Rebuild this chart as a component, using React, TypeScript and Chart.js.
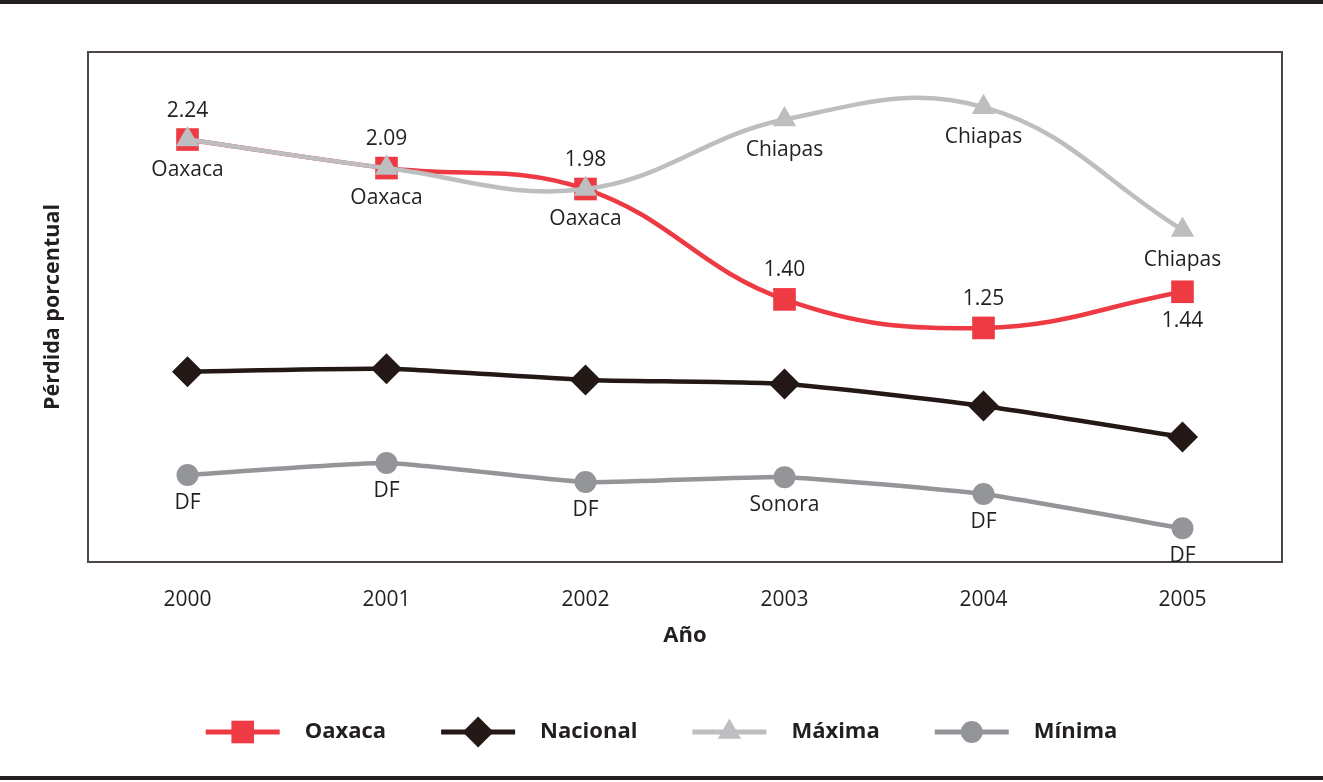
import React, { useEffect, useRef } from "react";
import { Chart, registerables } from "chart.js";

Chart.register(...registerables);

const years = ["2000", "2001", "2002", "2003", "2004", "2005"];
const oaxaca = [2.24, 2.09, 1.98, 1.4, 1.25, 1.44];
const nacional = [1.02, 1.035, 0.977, 0.956, 0.84, 0.677];
const maxima = [2.24, 2.09, 1.98, 2.345, 2.41, 1.765];
const minima = [0.477, 0.54, 0.44, 0.466, 0.377, 0.197];

const oaxacaLabels = ["2.24", "2.09", "1.98", "1.40", "1.25", "1.44"];
const oaxacaLabelAbove = [true, true, true, true, true, false];
const maximaLabels = ["Oaxaca", "Oaxaca", "Oaxaca", "Chiapas", "Chiapas", "Chiapas"];
const minimaLabels = ["DF", "DF", "DF", "Sonora", "DF", "DF"];

const RED = "#ee3a43";
const BLACK = "#231815";
const LIGHT = "#bcbec0";
const GRAY = "#939598";
const TEXT = "#231f20";
const FONT = '"Open Sans", "Noto Sans", sans-serif';

function drawMarker(ctx: CanvasRenderingContext2D, style: string, x: number, y: number, r: number, color: string) {
  ctx.fillStyle = color;
  ctx.beginPath();
  if (style === "rect") {
    const s = r * Math.SQRT1_2;
    ctx.rect(x - s, y - s, 2 * s, 2 * s);
  } else if (style === "rectRot") {
    ctx.moveTo(x - r, y);
    ctx.lineTo(x, y - r);
    ctx.lineTo(x + r, y);
    ctx.lineTo(x, y + r);
    ctx.closePath();
  } else if (style === "triangle") {
    ctx.moveTo(x, y - r);
    ctx.lineTo(x + r * Math.sin(Math.PI / 3), y + r / 2);
    ctx.lineTo(x - r * Math.sin(Math.PI / 3), y + r / 2);
    ctx.closePath();
  } else {
    ctx.arc(x, y, r, 0, Math.PI * 2);
  }
  ctx.fill();
}

const labelPlugin = {
  id: "pointLabels",
  afterDatasetsDraw(chart: any) {
    const ctx = chart.ctx as CanvasRenderingContext2D;
    ctx.save();
    ctx.font = `21px ${FONT}`;
    ctx.fillStyle = TEXT;
    ctx.textAlign = "center";
    ctx.textBaseline = "middle";
    const off = 29;
    const m0 = chart.getDatasetMeta(0);
    m0.data.forEach((p: any, i: number) => {
      ctx.fillText(oaxacaLabels[i], p.x, p.y + (oaxacaLabelAbove[i] ? -off : off));
    });
    const m2 = chart.getDatasetMeta(2);
    m2.data.forEach((p: any, i: number) => {
      ctx.fillText(maximaLabels[i], p.x, p.y + 30);
    });
    const m3 = chart.getDatasetMeta(3);
    m3.data.forEach((p: any, i: number) => {
      ctx.fillText(minimaLabels[i], p.x, p.y + 28);
    });
    ctx.restore();
  },
};

const framePlugin = {
  id: "frame",
  beforeDatasetsDraw(chart: any) {
    const { left, top, right, bottom } = chart.chartArea;
    const ctx = chart.ctx as CanvasRenderingContext2D;
    ctx.save();
    ctx.strokeStyle = "#4d4546";
    ctx.lineWidth = 2;
    ctx.strokeRect(left, top, right - left, bottom - top);
    ctx.restore();
  },
};

const legendPlugin = {
  id: "customLegend",
  afterDraw(chart: any) {
    const ctx = chart.ctx as CanvasRenderingContext2D;
    ctx.save();
    ctx.font = `bold 22px ${FONT}`;
    ctx.textBaseline = "middle";
    ctx.textAlign = "left";
    const lineW = 74, gapText = 25, gapItem = 55;
    const dss = chart.data.datasets;
    const widths = dss.map((d: any) => ctx.measureText(d.label).width);
    let total = 0;
    widths.forEach((w: number) => (total += lineW + gapText + w));
    total += gapItem * (dss.length - 1);
    let x = (chart.width - total) / 2;
    const y = 732;
    dss.forEach((d: any, i: number) => {
      ctx.strokeStyle = d.borderColor;
      ctx.lineWidth = 5;
      ctx.beginPath();
      ctx.moveTo(x, y);
      ctx.lineTo(x + lineW, y);
      ctx.stroke();
      drawMarker(ctx, d.pointStyle, x + lineW / 2, y, d.pointRadius, d.pointBackgroundColor);
      ctx.fillStyle = TEXT;
      ctx.fillText(d.label, x + lineW + gapText, y);
      x += lineW + gapText + widths[i] + gapItem;
    });
    ctx.restore();
  },
};

export default function App() {
  const ref = useRef<HTMLCanvasElement>(null);
  useEffect(() => {
    document.body.style.margin = "0";
    const chart = new Chart(ref.current!, {
      type: "line",
      data: {
        labels: years,
        datasets: [
          {
            label: "Oaxaca",
            data: oaxaca,
            borderColor: RED,
            backgroundColor: RED,
            pointBackgroundColor: RED,
            pointBorderWidth: 0,
            pointStyle: "rect",
            pointRadius: 16,
            borderWidth: 4.5,
            tension: 0.4,
            order: 1,
          },
          {
            label: "Nacional",
            data: nacional,
            borderColor: BLACK,
            backgroundColor: BLACK,
            pointBackgroundColor: BLACK,
            pointBorderWidth: 0,
            pointStyle: "rectRot",
            pointRadius: 15.5,
            borderWidth: 4.5,
            tension: 0.2,
            order: 1,
          },
          {
            label: "Máxima",
            data: maxima,
            borderColor: LIGHT,
            backgroundColor: LIGHT,
            pointBackgroundColor: LIGHT,
            pointBorderWidth: 0,
            pointStyle: "triangle",
            pointRadius: 13.5,
            borderWidth: 4.5,
            tension: 0.4,
            order: 0,
          },
          {
            label: "Mínima",
            data: minima,
            borderColor: GRAY,
            backgroundColor: GRAY,
            pointBackgroundColor: GRAY,
            pointBorderWidth: 0,
            pointStyle: "circle",
            pointRadius: 11,
            borderWidth: 4.5,
            tension: 0.15,
            order: 1,
          },
        ] as any,
      },
      options: {
        animation: false,
        responsive: true,
        maintainAspectRatio: false,
        layout: { padding: { top: 52, right: 41, bottom: 120, left: 0 } },
        plugins: { legend: { display: false }, tooltip: { enabled: false } },
        scales: {
          x: {
            offset: true,
            grid: { display: false, drawTicks: false },
            border: { display: false },
            ticks: { color: TEXT, font: { family: FONT, size: 21 }, padding: 25 },
            title: {
              display: true,
              text: "Año",
              color: TEXT,
              font: { family: FONT, size: 22, weight: "bold" },
              padding: { top: 0, bottom: 13 },
            },
            afterFit: (s: any) => {
              s.height = 100;
            },
          },
          y: {
            min: 0.02,
            max: 2.7,
            grid: { display: false, drawTicks: false },
            border: { display: false },
            ticks: { display: false },
            title: {
              display: true,
              text: "Pérdida porcentual",
              color: TEXT,
              font: { family: FONT, size: 21.5, weight: "bold" },
              padding: { top: 40, bottom: 0 },
            },
            afterFit: (s: any) => {
              s.width = 88;
            },
          },
        },
      } as any,
      plugins: [framePlugin, labelPlugin, legendPlugin],
    });
    return () => chart.destroy();
  }, []);
  return (
    <div style={{ position: "relative", width: 1323, height: 782, background: "#fff" }}>
      <div style={{ position: "absolute", left: 0, top: 0, width: 1323, height: 4, background: "#231f20" }} />
      <div style={{ position: "absolute", left: 0, top: 776, width: 1323, height: 4, background: "#231f20" }} />
      <canvas ref={ref} />
    </div>
  );
}
